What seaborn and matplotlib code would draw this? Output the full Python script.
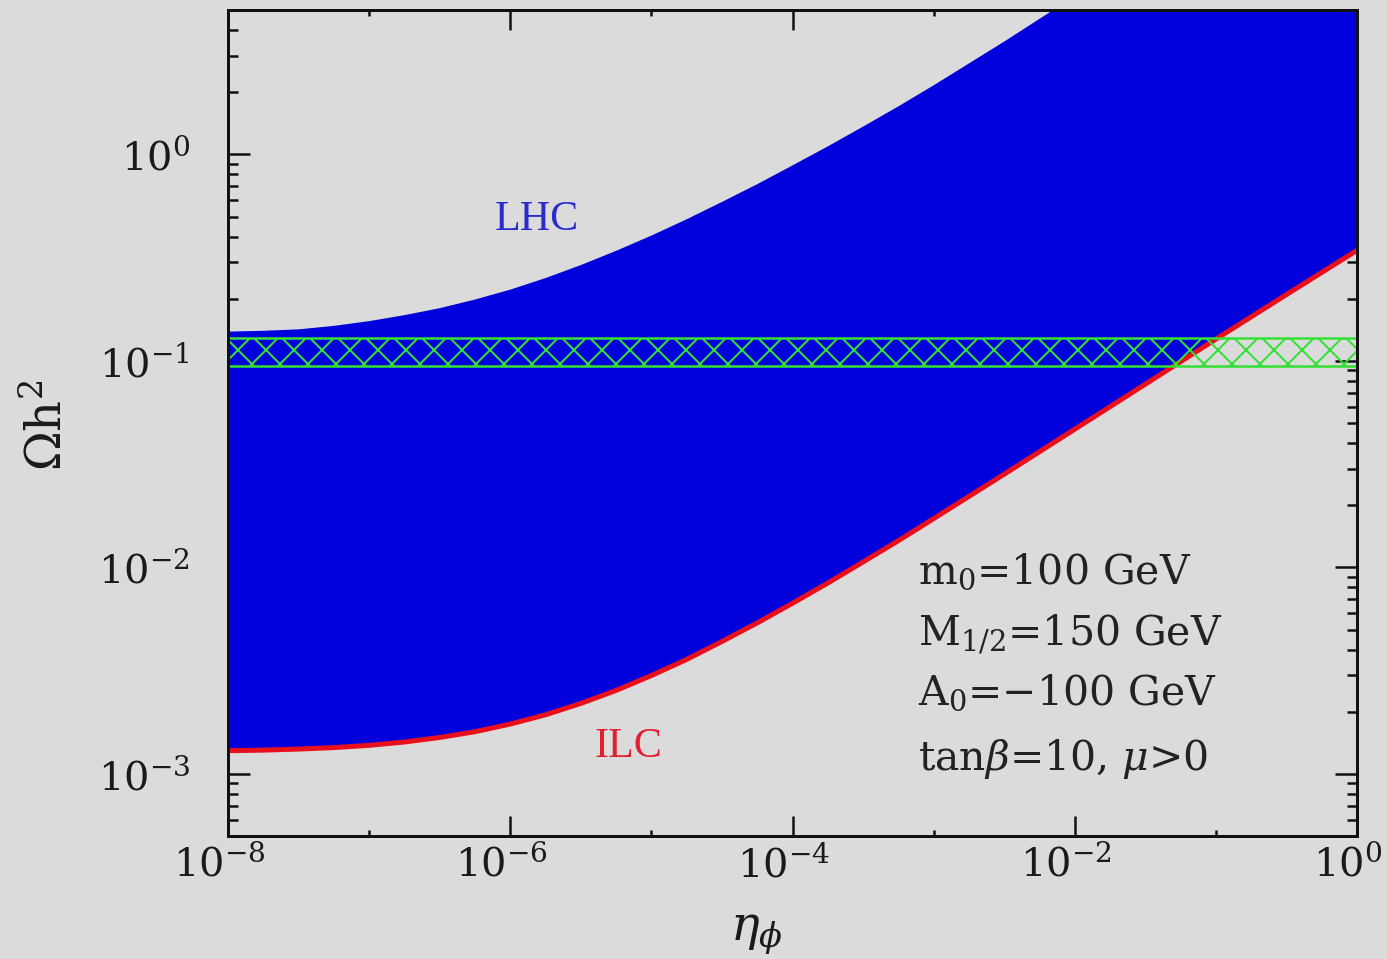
import numpy as np
import pandas as pd
import matplotlib
matplotlib.use("Agg")
import matplotlib.pyplot as plt
import seaborn as sns
from matplotlib.ticker import LogLocator, FixedLocator, NullFormatter, LogFormatterMathtext
from matplotlib.transforms import ScaledTranslation

# ---------------- data ----------------
log_eta = [-8, -7.75, -7.5, -7.25, -7, -6.75, -6.5, -6.25, -6, -5.75, -5.5, -5.25,
           -5, -4.75, -4.5, -4.25, -4, -3.75, -3.5, -3.25, -3, -2.5, -2, -1.5,
           -1, -0.5, 0]
omega_lhc = [0.1393, 0.1406, 0.1429, 0.1486, 0.1567, 0.1675, 0.1811, 0.1995, 0.2228,
             0.2535, 0.2931, 0.3436, 0.4074, 0.4887, 0.5929, 0.7228, 0.8913, 1.102,
             1.374, 1.722, 2.178, 3.548, 5.888, 9.772, 16.22, 26.92, 44.67]
omega_ilc = [1.294e-3, 1.303e-3, 1.318e-3, 1.340e-3, 1.374e-3, 1.426e-3, 1.500e-3,
             1.600e-3, 1.742e-3, 1.932e-3, 2.193e-3, 2.535e-3, 2.992e-3, 3.581e-3,
             4.375e-3, 5.383e-3, 6.699e-3, 8.395e-3, 1.062e-2, 1.346e-2, 1.722e-2,
             2.825e-2, 4.667e-2, 7.709e-2, 0.1274, 0.2094, 0.3428]
wmap_band = [0.094, 0.129]

x_major = [1e-8, 1e-6, 1e-4, 1e-2, 1e0]
x_minor = [1e-7, 1e-5, 1e-3, 1e-1]
y_major = [1e-3, 1e-2, 1e-1, 1e0]
xlim = (1e-8, 1.0)
ylim = (5.0e-4, 5.0)

params_text = [r"m$_0$=100 GeV", r"M$_{1/2}$=150 GeV", r"A$_0$=$-$100 GeV",
               r"tan$\beta$=10, $\mu$>0"]
params_y = [9.5e-3, 4.76e-3, 2.44e-3, 1.18e-3]

df = pd.DataFrame({"eta": 10.0 ** np.array(log_eta),
                   "lhc": omega_lhc, "ilc": omega_ilc})

# ---------------- style ----------------
DPI = 168
W, H = 1387, 959
def pt(px):
    return px * 72.0 / DPI

BG = "#dbdbdb"
BLUE = "#0000dc"
RED = "#e8101c"
GREEN = "#33e033"

sns.set_theme(style="ticks")
plt.rcParams["font.family"] = ["DejaVu Serif"]
plt.rcParams["mathtext.fontset"] = "dejavuserif"
plt.rcParams["hatch.linewidth"] = pt(2.0)
plt.rcParams["axes.linewidth"] = pt(3)

fig = plt.figure(figsize=(W / DPI, H / DPI), dpi=DPI, facecolor=BG)
ax = fig.add_axes([228 / W, 1 - 836 / H, (1357 - 228) / W, (836 - 10) / H])
ax.set_facecolor(BG)
ax.set_xscale("log")
ax.set_yscale("log")

# blue allowed region
ax.fill_between(df["eta"], df["ilc"], df["lhc"], color=BLUE, lw=0, zorder=1)

# red ILC boundary
sns.lineplot(data=df, x="eta", y="ilc", color=RED, lw=pt(5), ax=ax, zorder=3)

# WMAP band (hatched green)
ax.fill_between(xlim, [wmap_band[0]] * 2, [wmap_band[1]] * 2, facecolor="none",
                edgecolor=GREEN, hatch="xx", lw=pt(2.5), zorder=4)

ax.set_xlim(*xlim)
ax.set_ylim(*ylim)

# ticks
ax.xaxis.set_major_locator(FixedLocator(x_major))
ax.xaxis.set_minor_locator(FixedLocator(x_minor))
ax.xaxis.set_major_formatter(LogFormatterMathtext())
ax.xaxis.set_minor_formatter(NullFormatter())
ax.yaxis.set_major_locator(FixedLocator(y_major))
ax.yaxis.set_minor_locator(LogLocator(base=10, subs=np.arange(2, 10), numticks=20))
ax.yaxis.set_major_formatter(LogFormatterMathtext())
ax.yaxis.set_minor_formatter(NullFormatter())

ax.tick_params(axis="both", which="both", direction="in", top=True, right=True,
               color="#111111", width=pt(2.5))
ax.tick_params(axis="x", which="major", length=pt(20), pad=pt(9),
               labelsize=pt(40), labelcolor="#1a1a1a")
ax.tick_params(axis="x", which="minor", length=pt(6))
ax.tick_params(axis="y", which="major", length=pt(22), pad=pt(38),
               labelsize=pt(40), labelcolor="#1a1a1a")
ax.tick_params(axis="y", which="minor", length=pt(10))
for s in ax.spines.values():
    s.set_color("#111111")
    s.set_zorder(6)

# shift x tick labels slightly left, as in the reference
shift = ScaledTranslation(-9 / DPI, 0, fig.dpi_scale_trans)
for lab in ax.get_xticklabels():
    lab.set_transform(lab.get_transform() + shift)

# axis labels
ax.set_xlabel(r"$\eta_\phi$", fontsize=pt(48), color="#1a1a1a")
ax.xaxis.set_label_coords(0.468, -0.09)
ax.set_ylabel(r"$\Omega \mathrm{h}^2$", fontsize=pt(48), color="#1a1a1a")
ax.yaxis.set_label_coords(-0.138, 0.4976)

# region labels
ax.text(10 ** -5.81, 0.48, "LHC", color="#2a2ad0", fontsize=pt(42),
        family="Liberation Serif", ha="center", va="center", zorder=5)
ax.text(10 ** -5.165, 1.35e-3, "ILC", color="#e02030", fontsize=pt(42),
        family="Liberation Serif", ha="center", va="center", zorder=5)

# parameter box
for txt, yv in zip(params_text, params_y):
    ax.text(10 ** -3.11, yv, txt, fontsize=pt(41), color="#222222",
            ha="left", va="center", zorder=5)

fig.savefig("out.png", dpi=DPI, facecolor=BG)
